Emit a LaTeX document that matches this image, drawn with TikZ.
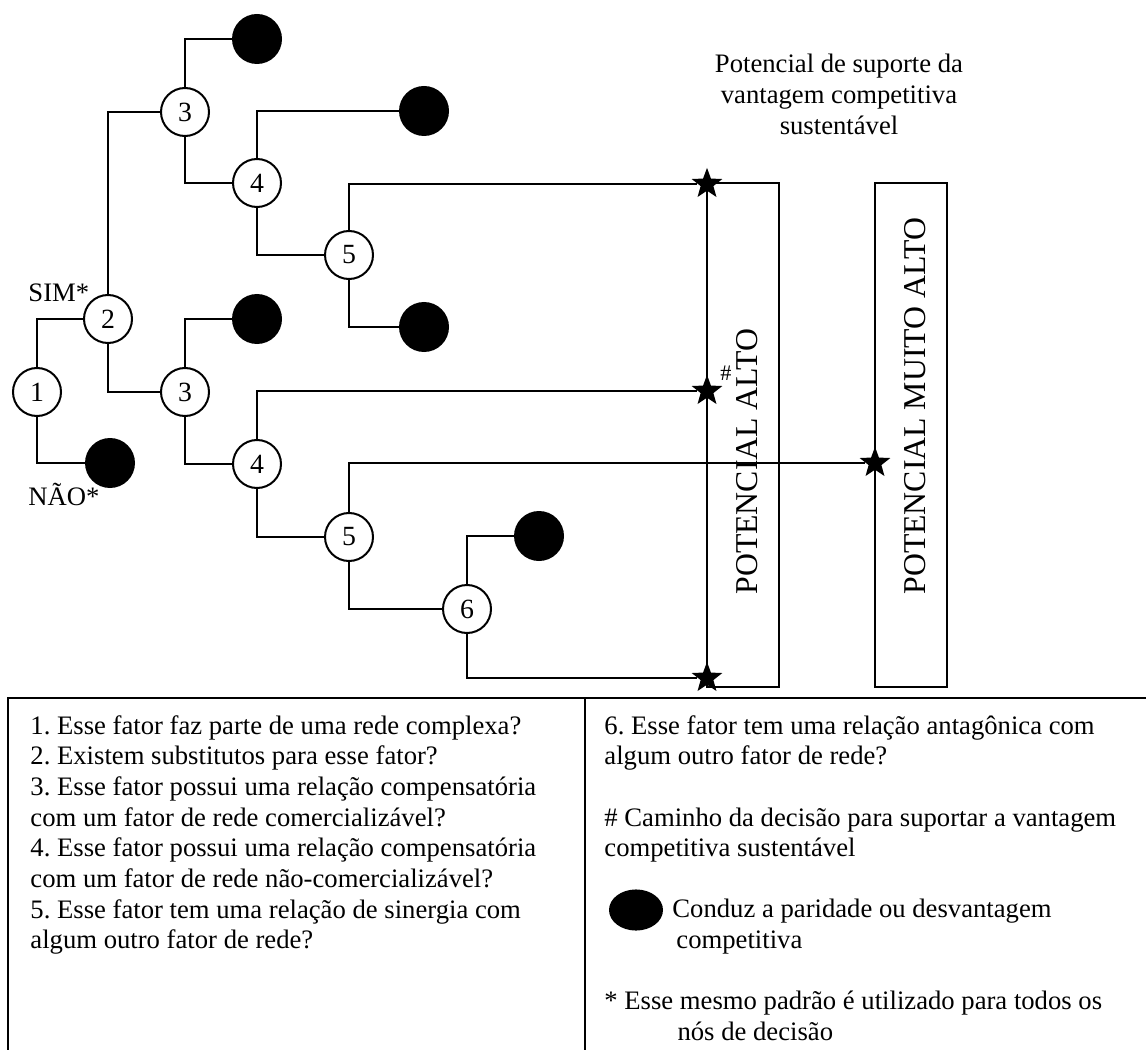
\documentclass[tikz,border=0pt]{standalone}
\usepackage{fontspec}
\setmainfont{Liberation Serif}
\usetikzlibrary{shapes.geometric}
\frenchspacing

\begin{document}
\begin{tikzpicture}[x=0.45pt,y=-0.45pt,
		conn/.style={line width=0.9pt,black},
		quest/.style={circle,draw,line width=0.9pt,fill=white,minimum size=21.6pt,inner sep=0pt,font=\fontsize{12.5}{13.8}\selectfont},
		leaf/.style={circle,fill=black,minimum size=22.5pt,inner sep=0pt},
		pstar/.style={star,star points=5,star point ratio=2.4,fill=black,minimum size=14.5pt,inner sep=0pt},
		txt/.style={font=\fontsize{12}{13.8}\selectfont,inner sep=0pt,align=left},
		level/.style={font=\fontsize{14.3}{17}\selectfont,inner sep=0pt,rotate=90,anchor=base west}]
		\useasboundingbox (0,0) rectangle (1146,1050);
		
		\node[quest] (q1) at (37,392) {1};
		\node[quest] (q2) at (108,319) {2};
		\node[quest] (q3a) at (185,112) {3};
		\node[quest] (q4a) at (257,183) {4};
		\node[quest] (q5a) at (349,255) {5};
		\node[quest] (q3b) at (185,392) {3};
		\node[quest] (q4b) at (257,464) {4};
		\node[quest] (q5b) at (349,537) {5};
		\node[quest] (q6) at (467,609) {6};
		
		\node[leaf] (d1) at (110,463) {};
		\node[leaf] (d2) at (257,39) {};
		\node[leaf] (d3) at (424,111) {};
		\node[leaf] (d4) at (424,327) {};
		\node[leaf] (d5) at (257,319) {};
		\node[leaf] (d6) at (539,536) {};
		
		\node[txt,anchor=base west] (sim) at (28,302) {SIM*};
		\node[txt,anchor=base west] (nao) at (28,505) {NÃO*};
		
		\draw[conn] (707,183) rectangle (779,687);
		\draw[conn] (875,183) rectangle (947,687);
		\node[level] (alto) at (757,595) {POTENCIAL ALTO};
		\node[level] (muito) at (925,595) {POTENCIAL MUITO ALTO};
		\node[txt,align=center,anchor=north] (title) at (839,54) {Potencial de suporte da\\vantagem competitiva\\sustentável};
		
		\node[pstar] (s1) at (707,184) {};
		\node[pstar] (s2) at (707,391) {};
		\node[pstar] (s3) at (707,678) {};
		\node[pstar] (s4) at (875,463) {};
		\node[txt,font=\fontsize{10}{11}\selectfont] (hash) at (726,373) {\#};
		
		\draw[conn] (q1.north) |- (q2.west);
		\draw[conn] (q1.south) |- (d1.west);
		\draw[conn] (q2.north) |- (q3a.west);
		\draw[conn] (q2.south) |- (q3b.west);
		\draw[conn] (q3a.north) |- (d2.west);
		\draw[conn] (q3a.south) |- (q4a.west);
		\draw[conn] (q4a.north) |- (d3.west);
		\draw[conn] (q4a.south) |- (q5a.west);
		\draw[conn] (q5a.north) |- (s1);
		\draw[conn] (q5a.south) |- (d4.west);
		\draw[conn] (q3b.north) |- (d5.west);
		\draw[conn] (q3b.south) |- (q4b.west);
		\draw[conn] (q4b.north) |- (s2);
		\draw[conn] (q4b.south) |- (q5b.west);
		\draw[conn] (q5b.north) |- (s4);
		\draw[conn] (q5b.south) |- (q6.west);
		\draw[conn] (q6.north) |- (d6.west);
		\draw[conn] (q6.south) |- (s3);
		
		\draw[conn] (8,1050) -- (8,698) -- (1146,698);
		\draw[conn] (585,698) -- (585,1050);
		
		\node[txt,anchor=north west] (left) at (30,715) {1. Esse fator faz parte de uma rede complexa?\\
			2. Existem substitutos para esse fator?\\
			3. Esse fator possui uma relação compensatória\\
			com um fator de rede comercializável?\\
			4. Esse fator possui uma relação compensatória\\
			com um fator de rede não-comercializável?\\
			5. Esse fator tem uma relação de sinergia com\\
			algum outro fator de rede?};
		\node[txt,anchor=north west] (right) at (604,715) {6. Esse fator tem uma relação antagônica com\\
			algum outro fator de rede?\\[13.8pt]
			\# Caminho da decisão para suportar a vantagem\\
			competitiva sustentável};
		\node[ellipse,fill=black,minimum width=24.3pt,minimum height=18.5pt,inner sep=0pt] (ldot) at (636,910) {};
		\node[txt,anchor=north west] (lgd) at (672,899) {Conduz a paridade ou desvantagem\\
			\hspace*{1.8pt}competitiva};
		\node[txt,anchor=north west] (note) at (604,991) {* Esse mesmo padrão é utilizado para todos os\\
			\hspace*{32.9pt}nós de decisão};
\end{tikzpicture}
\end{document}
